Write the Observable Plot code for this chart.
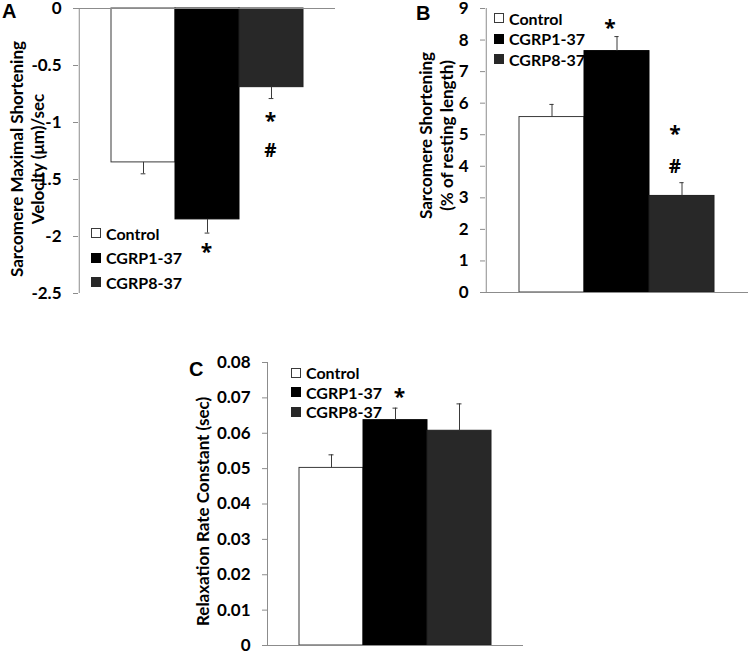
<!DOCTYPE html>
<html><head><meta charset="utf-8">
<script src="https://cdn.jsdelivr.net/npm/d3@7"></script>
<script src="https://cdn.jsdelivr.net/npm/@observablehq/plot@0.6"></script>
<style>
body{margin:0;background:#fff;}
#root{position:relative;width:750px;height:652px;background:#fff;font-family:Lato,"Open Sans",sans-serif;font-weight:bold;overflow:hidden;}
.panel{position:absolute;}
.letter{position:absolute;font-family:"Liberation Sans",Arial,sans-serif;font-weight:bold;font-size:20px;line-height:1;color:#000;}
.legend{position:absolute;font-size:16px;color:#000;}
.legend .row{display:flex;align-items:center;white-space:nowrap;}
.legend .sw{display:inline-block;box-sizing:border-box;width:10px;height:10px;margin-right:5px;}
</style></head>
<body><div id="root"></div>
<script>
// ---- data ----
const series = ["Control", "CGRP1-37", "CGRP8-37"];

// Panel A: sarcomere maximal shortening velocity (µm/sec)
const velMean = [-1.35, -1.85, -0.69];
const velErr  = [0.10, 0.12, 0.10];
const velSig  = ["", "*", "*#"];
const velTicks = [0, -0.5, -1, -1.5, -2, -2.5];

// Panel B: sarcomere shortening (% of resting length)
const shortMean = [5.56, 7.65, 3.06];
const shortErr  = [0.40, 0.46, 0.42];
const shortSig  = ["", "*", "*#"];
const shortTicks = [0, 1, 2, 3, 4, 5, 6, 7, 8, 9];

// Panel C: relaxation rate constant (sec)
const relaxMean = [0.0502, 0.0637, 0.0607];
const relaxErr  = [0.0037, 0.0034, 0.0076];
const relaxSig  = ["", "*", ""];
const relaxTicks = [0, 0.01, 0.02, 0.03, 0.04, 0.05, 0.06, 0.07, 0.08];

// ---- styles ----
const fills   = ["#ffffff", "#000000", "#282828"];
const strokes = ["#3a3a3a", "#000000", "#1e1e1e"];
const axisGray = "#8c8c8c";
const symFont = "'Open Sans', sans-serif";

const root = document.getElementById("root");

function panel(cfg) {
  const {mean, err, sig, ticks, domain, width, height, ml, mr, mt, mb,
         title, titleDx, titleDy, starDy, comboStarDy, hashDy, starDx, left, top} = cfg;
  const rows = series.map((s, i) => {
    const sgn = mean[i] < 0 ? -1 : 1;
    return {s, m: mean[i], e: mean[i] + sgn * err[i], sig: sig[i], fill: fills[i], stroke: strokes[i]};
  });
  const step = (width - ml - mr) / 4;
  const capInset = (step - 5) / 2;
  const sym = {x: "s", y: "e", dx: starDx, fontSize: 21, fontWeight: "bold", fontFamily: symFont, fill: "#000"};
  const svg = Plot.plot({
    width, height,
    marginLeft: ml, marginRight: mr, marginTop: mt, marginBottom: mb,
    style: {fontFamily: "Lato, 'Open Sans', sans-serif", fontWeight: "bold", fontSize: "17px", background: "transparent", overflow: "visible", color: "#000"},
    x: {domain: series, paddingInner: 0, paddingOuter: 0.5, axis: null},
    y: {domain},
    color: {type: "identity"},
    marks: [
      Plot.barY(rows, {x: "s", y: "m", fill: "fill", stroke: "stroke", strokeWidth: 1}),
      Plot.ruleX(rows, {x: "s", y1: "m", y2: "e", stroke: "#3a3a3a", strokeWidth: 1}),
      Plot.tickY(rows, {x: "s", y: "e", stroke: "#3a3a3a", strokeWidth: 1, insetLeft: capInset, insetRight: capInset}),
      Plot.ruleY([0], {stroke: axisGray, strokeWidth: 1}),
      Plot.ruleX([series[0]], {dx: -step, stroke: axisGray, strokeWidth: 1}),
      Plot.axisY({ticks, tickFormat: d => String(d), tickSize: 5, tickPadding: 12, stroke: axisGray, color: "#000", fontSize: 17, fontWeight: "bold", label: null}),
      Plot.text(rows.filter(d => d.sig === "*"), {...sym, text: () => "*", dy: starDy}),
      Plot.text(rows.filter(d => d.sig === "*#"), {...sym, text: () => "*", dy: comboStarDy}),
      Plot.text(rows.filter(d => d.sig.includes("#")), {...sym, text: () => "#", dy: hashDy, fontSize: 19}),
      Plot.text([title], {frameAnchor: "left", textAnchor: "middle", text: d => d, rotate: -90, dx: titleDx, dy: titleDy, fontSize: 17, fontWeight: "bold", lineHeight: 1.25, fill: "#000"})
    ]
  });
  svg.classList.add("panel");
  svg.style.left = left + "px";
  svg.style.top = top + "px";
  root.appendChild(svg);
}

function legend(left, topCenter, spacing) {
  const div = document.createElement("div");
  div.className = "legend";
  div.style.left = left + "px";
  div.style.top = (topCenter - spacing / 2) + "px";
  series.forEach((s, i) => {
    const row = document.createElement("div");
    row.className = "row";
    row.style.height = spacing + "px";
    const sw = document.createElement("span");
    sw.className = "sw";
    sw.style.background = fills[i];
    sw.style.border = "1px solid " + (i === 0 ? "#3a3a3a" : fills[i]);
    row.appendChild(sw);
    const t = document.createElement("span");
    t.textContent = s;
    row.appendChild(t);
    div.appendChild(row);
  });
  root.appendChild(div);
}

function letter(ch, left, top) {
  const d = document.createElement("div");
  d.className = "letter";
  d.textContent = ch;
  d.style.left = left + "px";
  d.style.top = top + "px";
  root.appendChild(d);
}

panel({mean: velMean, err: velErr, sig: velSig, ticks: velTicks, domain: [-2.5, 0],
  width: 345, height: 300, ml: 78, mr: 10, mt: 8, mb: 7, left: 0, top: 0,
  title: "Sarcomere Maximal Shortening\nVelocity (\u03bcm)/sec", titleDx: -51.5, titleDy: 8,
  starDy: 19, comboStarDy: 23, hashDy: 52, starDx: -1});

panel({mean: shortMean, err: shortErr, sig: shortSig, ticks: shortTicks, domain: [0, 9],
  width: 370, height: 300, ml: 105, mr: 2, mt: 8, mb: 8, left: 380, top: 0,
  title: "Sarcomere Shortening\n(% of resting length)", titleDx: -50, titleDy: -15,
  starDy: -8.5, comboStarDy: -48, hashDy: -16, starDx: -7});

panel({mean: relaxMean, err: relaxErr, sig: relaxSig, ticks: relaxTicks, domain: [0, 0.08],
  width: 360, height: 322, ml: 97, mr: 7, mt: 32, mb: 7, left: 170, top: 330,
  title: "Relaxation Rate Constant (sec)", titleDx: -65.3, titleDy: 7.5,
  starDy: -11, comboStarDy: -48, hashDy: -16, starDx: 4});

legend(91, 233, 24.5);
legend(494, 18, 20.5);
legend(291, 372.7, 19.5);

letter("A", 2, 1);
letter("B", 416, 3);
letter("C", 189, 359);
</script>
</body></html>
